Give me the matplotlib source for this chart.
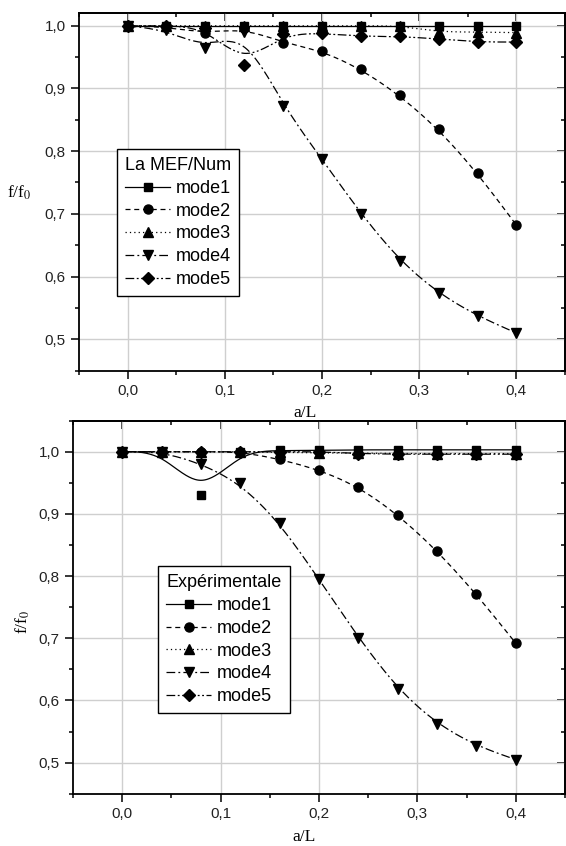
import numpy as np
import matplotlib
matplotlib.use("Agg")
import matplotlib.pyplot as plt
from matplotlib.lines import Line2D
from matplotlib.ticker import MultipleLocator, FuncFormatter

plt.rcParams['font.family'] = ['Liberation Sans', 'DejaVu Sans']
plt.rcParams['mathtext.fontset'] = 'stix'

# crack depth ratio a/L
a_L = [0.0, 0.04, 0.08, 0.12, 0.16, 0.20, 0.24, 0.28, 0.32, 0.36, 0.40]

# top: La MEF/Num
num_mode1 = [1.0, 1.0, 1.0, 1.0, 1.0, 1.0, 1.0, 1.0, 1.0, 1.0, 1.0]
num_mode2 = [1.0, 0.998, 0.988, 0.996, 0.973, 0.960, 0.931, 0.889, 0.835, 0.765, 0.682]
num_mode3 = [1.0, 1.0, 1.0, 1.0, 1.0, 1.0, 1.0, 1.0, 0.990, 0.990, 0.989]
num_mode4 = [1.0, 0.993, 0.964, 0.990, 0.872, 0.787, 0.700, 0.625, 0.573, 0.537, 0.510]
num_mode5 = [1.0, 1.0, 0.997, 0.938, 0.987, 0.988, 0.983, 0.983, 0.979, 0.974, 0.974]

# bottom: Expérimentale
exp_mode1 = [1.0, 1.0, 0.931, 1.0, 1.002, 1.002, 1.003, 1.003, 1.003, 1.003, 1.003]
exp_mode2 = [1.0, 1.0, 1.0, 1.0, 0.988, 0.971, 0.944, 0.899, 0.841, 0.771, 0.692]
exp_mode3 = [1.0, 1.0, 1.0, 1.0, 0.999, 0.998, 0.998, 0.997, 0.997, 0.997, 0.997]
exp_mode4 = [1.0, 1.0, 0.981, 0.949, 0.886, 0.795, 0.701, 0.618, 0.562, 0.527, 0.505]
exp_mode5 = [1.0, 1.0, 1.0, 1.0, 1.0, 1.0, 0.997, 0.996, 0.996, 0.996, 0.996]

mode_names = ['mode1', 'mode2', 'mode3', 'mode4', 'mode5']
markers = ['s', 'o', '^', 'v', 'D']
msizes = [5.5, 6.5, 7, 7, 6]
styles = ['-', (0, (4, 3)), (0, (1, 2.5)), (0, (7, 2.5, 1.5, 2.5)),
          (0, (7, 2, 1.5, 2, 1.5, 2))]


def bspline(x, y, n=40):
    # uniform cubic B-spline with clamped ends (Origin-like "B-Spline" connect)
    px = np.r_[x[0], x[0], x, x[-1], x[-1]]
    py = np.r_[y[0], y[0], y, y[-1], y[-1]]
    t = np.linspace(0, 1, n, endpoint=False)
    b = [(1 - t) ** 3 / 6, (3 * t**3 - 6 * t**2 + 4) / 6,
         (-3 * t**3 + 3 * t**2 + 3 * t + 1) / 6, t**3 / 6]
    xs, ys = [], []
    for i in range(len(px) - 3):
        xs.append(sum(b[k] * px[i + k] for k in range(4)))
        ys.append(sum(b[k] * py[i + k] for k in range(4)))
    xs.append([px[-1]])
    ys.append([py[-1]])
    return np.concatenate(xs), np.concatenate(ys)


comma = FuncFormatter(lambda v, p: f"{v:.1f}".replace('.', ','))


def setup(ax, ymax):
    ax.set_xlim(-0.05, 0.45)
    ax.set_ylim(0.45, ymax)
    ax.patch.set_alpha(0)
    ax.xaxis.set_major_locator(MultipleLocator(0.1))
    ax.xaxis.set_minor_locator(MultipleLocator(0.05))
    ax.yaxis.set_major_locator(MultipleLocator(0.1))
    ax.yaxis.set_minor_locator(MultipleLocator(0.05))
    ax.xaxis.set_major_formatter(comma)
    ax.yaxis.set_major_formatter(comma)
    ax.grid(True, which='major', color='#cfcfcf', lw=1)
    ax.set_axisbelow(True)
    ax.tick_params(which='both', direction='out', width=1.1, labelsize=11,
                   colors='black', labelcolor='#222222')
    ax.tick_params(which='major', length=6, pad=3.5)
    ax.tick_params(which='minor', length=3)
    for s in ax.spines.values():
        s.set_linewidth(1.3)
    # mirrored ticks pointing inward on top and right
    top = ax.secondary_xaxis('top')
    right = ax.secondary_yaxis('right')
    for sec, axis in ((top, top.xaxis), (right, right.yaxis)):
        axis.set_major_locator(MultipleLocator(0.1))
        axis.set_minor_locator(MultipleLocator(0.05))
        sec.tick_params(which='both', direction='in', width=1.1,
                        labelbottom=False, labeltop=False,
                        labelleft=False, labelright=False)
        sec.tick_params(which='major', length=6)
        sec.tick_params(which='minor', length=3)
        for s in sec.spines.values():
            s.set_linewidth(1.3)


def draw(ax, series, title, anchor):
    handles = []
    for y, name, m, ms, ls in zip(series, mode_names, markers, msizes, styles):
        cx, cy = bspline(np.array(a_L), np.array(y))
        ax.plot(cx, cy, color='black', lw=0.9, ls=ls, zorder=3)
        ax.plot(a_L, y, ls='none', marker=m, ms=ms, color='black', zorder=4)
        handles.append(Line2D([], [], color='black', lw=0.9, ls=ls,
                              marker=m, ms=ms))
    leg = ax.legend(handles, mode_names, title=title, loc='upper left',
                    bbox_to_anchor=anchor, borderaxespad=0, fontsize=13,
                    title_fontsize=13, alignment='left', frameon=True,
                    fancybox=False, edgecolor='black', framealpha=1,
                    handlelength=2.5, handletextpad=0.3, labelspacing=0.32,
                    borderpad=0.45, numpoints=1)
    leg.get_frame().set_linewidth(1.0)
    leg.set_zorder(10)


fig = plt.figure(figsize=(5.66, 8.46), dpi=100)
ax1 = fig.add_axes([79 / 566, 1 - 370.6 / 846, 486 / 566, 357.4 / 846])
ax2 = fig.add_axes([73 / 566, 1 - 793.8 / 846, 492 / 566, 373.2 / 846])

setup(ax1, 1.02)
setup(ax2, 1.05)

draw(ax1, [num_mode1, num_mode2, num_mode3, num_mode4, num_mode5],
     'La MEF/Num', (0.078, 0.62))
draw(ax2, [exp_mode1, exp_mode2, exp_mode3, exp_mode4, exp_mode5],
     'Expérimentale', (0.173, 0.61))

serif = ['Liberation Serif', 'DejaVu Serif']
ax1.set_xlabel('a/L', family=serif, fontsize=12.5, va='center')
ax1.xaxis.set_label_coords(0.465, -0.118)
ax1.set_ylabel('f/f$_0$', family=serif, fontsize=12.5, rotation=0,
               ha='center', va='center')
ax1.yaxis.set_label_coords(-0.123, 0.497)

ax2.set_xlabel('a/L', family=serif, fontsize=12.5, va='center')
ax2.xaxis.set_label_coords(0.47, -0.115)
ax2.set_ylabel('f/f$_0$', family=serif, fontsize=12.5, rotation=90,
               ha='center', va='center')
ax2.yaxis.set_label_coords(-0.102, 0.46)

fig.savefig('out.png', dpi=100)
